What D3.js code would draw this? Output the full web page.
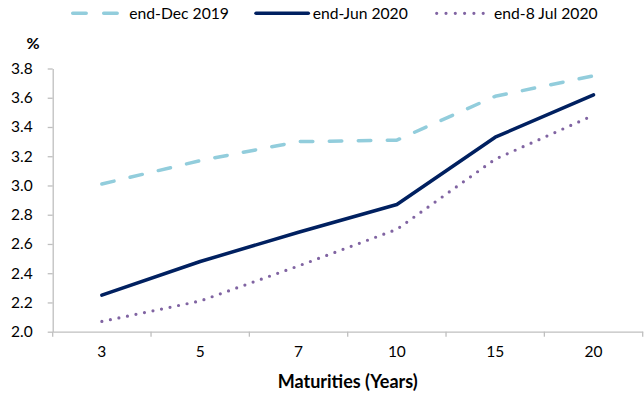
<!DOCTYPE html>
<html>
<head>
<meta charset="utf-8">
<script src="https://cdn.jsdelivr.net/npm/d3@7"></script>
<style>
  html, body { margin: 0; padding: 0; background: #fff; }
  svg { display: block; }
  text { font-family: Lato, "Open Sans", sans-serif; fill: #000; }
</style>
</head>
<body>
<svg id="chart" width="644" height="396"></svg>
<script>
// Yield curve by maturity, %
const maturities = ["3", "5", "7", "10", "15", "20"];
const endDec2019 = [3.01, 3.17, 3.30, 3.31, 3.61, 3.75];
const endJun2020 = [2.25, 2.48, 2.68, 2.87, 3.33, 3.62];
const end8Jul2020 = [2.07, 2.21, 2.45, 2.70, 3.18, 3.48];
const yTicks = [2.0, 2.2, 2.4, 2.6, 2.8, 3.0, 3.2, 3.4, 3.6, 3.8];
const seriesNames = ["end-Dec 2019", "end-Jun 2020", "end-8 Jul 2020"];

const series = [
  { name: seriesNames[0], values: endDec2019, color: "#92CDDC", width: 3.5, dash: "12.5,16.5" },
  { name: seriesNames[1], values: endJun2020, color: "#002060", width: 3.5, dash: null },
  { name: seriesNames[2], values: end8Jul2020, color: "#8064A2", width: 3.2, dash: "0,8.7" }
];

const svg = d3.select("#chart");
const axisColor = "#BFBFBF";

const x = d3.scaleBand().domain(maturities).range([52.7, 642.7]).padding(0);
const y = d3.scaleLinear().domain([2.0, 3.8]).range([331.7, 68.5]);

// Y axis
const yAxis = svg.append("g")
  .attr("transform", "translate(52.7,0)")
  .call(d3.axisLeft(y).tickValues(yTicks).tickFormat(d3.format(".1f")).tickSize(5).tickPadding(15).tickSizeOuter(0));
yAxis.select(".domain").attr("stroke", axisColor).attr("stroke-width", 1.3);
yAxis.selectAll(".tick line").attr("stroke", axisColor).attr("stroke-width", 1.3);
yAxis.selectAll(".tick text").attr("font-size", 15.5).attr("font-family", "Lato").attr("fill", "#000");

// X axis: labels at category centres, ticks at category boundaries
const xAxis = svg.append("g")
  .attr("transform", "translate(0,331.7)")
  .call(d3.axisBottom(x).tickSize(0).tickPadding(14).tickSizeOuter(0));
xAxis.select(".domain").attr("stroke", axisColor).attr("stroke-width", 1.3);
xAxis.selectAll(".tick text").attr("font-size", 15.5).attr("font-family", "Lato").attr("fill", "#000");

const boundaries = maturities.map(m => x(m)).concat([x.range()[1]]);
xAxis.selectAll(".bound")
  .data(boundaries)
  .enter().append("line")
  .attr("class", "bound")
  .attr("x1", d => d).attr("x2", d => d)
  .attr("y1", 0).attr("y2", 5)
  .attr("stroke", axisColor).attr("stroke-width", 1.3);

// Axis titles
svg.append("text")
  .attr("x", (x.range()[0] + x.range()[1]) / 2)
  .attr("y", 387.5)
  .attr("text-anchor", "middle")
  .attr("font-size", 18)
  .attr("font-weight", "bold")
  .text("Maturities (Years)");

svg.append("text")
  .attr("x", 26.5)
  .attr("y", 49)
  .attr("font-size", 16)
  .attr("font-weight", "bold")
  .text("%");

// Lines
const line = d3.line()
  .x((d, i) => x(maturities[i]) + x.bandwidth() / 2)
  .y(d => y(d));

svg.selectAll(".series")
  .data(series)
  .enter().append("path")
  .attr("class", "series")
  .attr("d", d => line(d.values))
  .attr("fill", "none")
  .attr("stroke", d => d.color)
  .attr("stroke-width", d => d.width)
  .attr("stroke-linecap", "round")
  .attr("stroke-linejoin", "round")
  .attr("stroke-dasharray", d => d.dash);

// Legend
const legendItems = [
  { x1: 72.7, x2: 120, tx: 129.3 },
  { x1: 256, x2: 308.3, tx: 312.7 },
  { x1: 436.7, x2: 483.3, tx: 494 }
];
const legend = svg.append("g");
series.forEach((s, i) => {
  const it = legendItems[i];
  legend.append("line")
    .attr("x1", it.x1).attr("x2", it.x2)
    .attr("y1", 13.3).attr("y2", 13.3)
    .attr("stroke", s.color)
    .attr("stroke-width", s.width)
    .attr("stroke-linecap", "round")
    .attr("stroke-dasharray", i === 0 ? "13.5,17.5" : (i === 2 ? "0,9.3" : null));
  legend.append("text")
    .attr("x", it.tx)
    .attr("y", 18.5)
    .attr("font-size", 15.7)
    .text(s.name);
});
</script>
</body>
</html>
